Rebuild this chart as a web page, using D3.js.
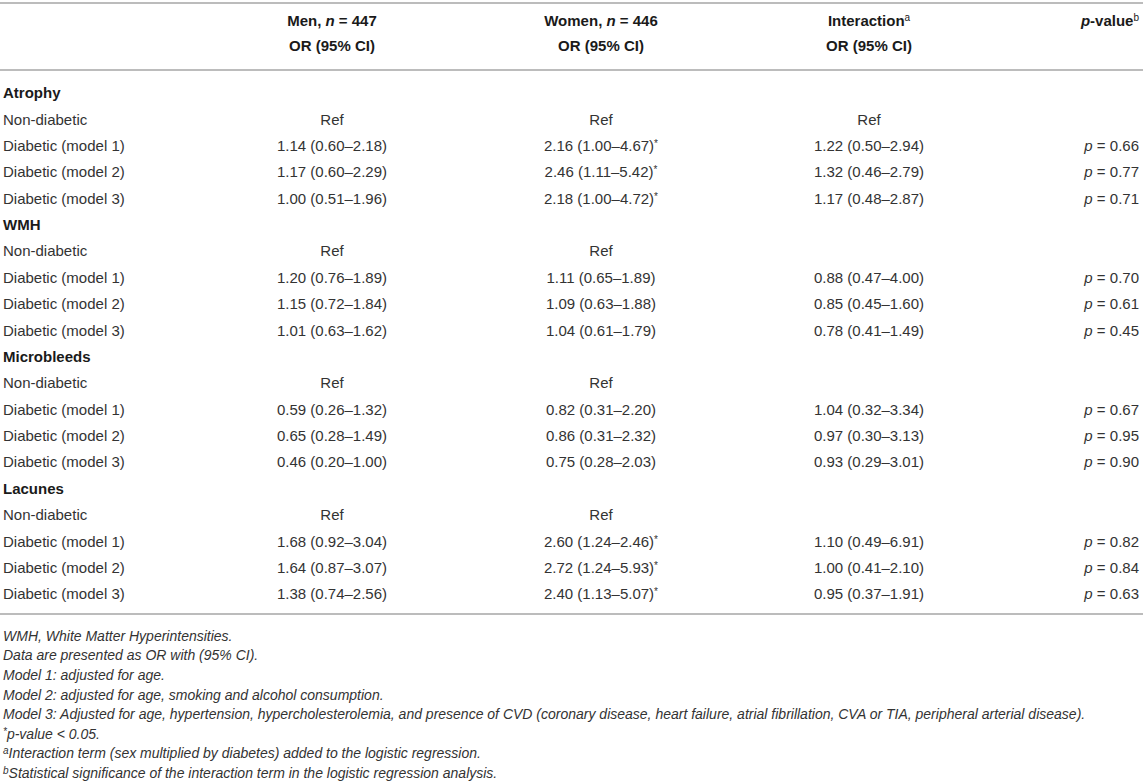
<!DOCTYPE html>
<html>
<head>
<meta charset="utf-8">
<script src="https://cdn.jsdelivr.net/npm/d3@7"></script>
<style>
  html, body { margin: 0; padding: 0; background: #fff; }
  svg { display: block; font-family: 'Liberation Sans', Arial, sans-serif; }
</style>
</head>
<body>
<svg id="tbl" width="1143" height="784"></svg>
<script>
// table content
const groups = ['Atrophy', 'WMH', 'Microbleeds', 'Lacunes'];
const rowLabels = ['Non-diabetic', 'Diabetic (model 1)', 'Diabetic (model 2)', 'Diabetic (model 3)'];

// [OR, lower, upper] for model 1..3, per group
const menOR = [
  [[1.14, 0.60, 2.18], [1.17, 0.60, 2.29], [1.00, 0.51, 1.96]],
  [[1.20, 0.76, 1.89], [1.15, 0.72, 1.84], [1.01, 0.63, 1.62]],
  [[0.59, 0.26, 1.32], [0.65, 0.28, 1.49], [0.46, 0.20, 1.00]],
  [[1.68, 0.92, 3.04], [1.64, 0.87, 3.07], [1.38, 0.74, 2.56]],
];
const womenOR = [
  [[2.16, 1.00, 4.67], [2.46, 1.11, 5.42], [2.18, 1.00, 4.72]],
  [[1.11, 0.65, 1.89], [1.09, 0.63, 1.88], [1.04, 0.61, 1.79]],
  [[0.82, 0.31, 2.20], [0.86, 0.31, 2.32], [0.75, 0.28, 2.03]],
  [[2.60, 1.24, 2.46], [2.72, 1.24, 5.93], [2.40, 1.13, 5.07]],
];
const womenSignificant = [true, false, false, true];
const interactionOR = [
  [[1.22, 0.50, 2.94], [1.32, 0.46, 2.79], [1.17, 0.48, 2.87]],
  [[0.88, 0.47, 4.00], [0.85, 0.45, 1.60], [0.78, 0.41, 1.49]],
  [[1.04, 0.32, 3.34], [0.97, 0.30, 3.13], [0.93, 0.29, 3.01]],
  [[1.10, 0.49, 6.91], [1.00, 0.41, 2.10], [0.95, 0.37, 1.91]],
];
const interactionRef = [true, false, false, false];
const pValues = [
  [0.66, 0.77, 0.71],
  [0.70, 0.61, 0.45],
  [0.67, 0.95, 0.90],
  [0.82, 0.84, 0.63],
];

const footnotes = [
  [{ t: 'WMH, White Matter Hyperintensities.' }],
  [{ t: 'Data are presented as OR with (95% CI).' }],
  [{ t: 'Model 1: adjusted for age.' }],
  [{ t: 'Model 2: adjusted for age, smoking and alcohol consumption.' }],
  [{ t: 'Model 3: Adjusted for age, hypertension, hypercholesterolemia, and presence of CVD (coronary disease, heart failure, atrial fibrillation, CVA or TIA, peripheral arterial disease).' }],
  [{ t: '*', sup: true }, { t: 'p-value < 0.05.' }],
  [{ t: 'a', sup: true }, { t: 'Interaction term (sex multiplied by diabetes) added to the logistic regression.' }],
  [{ t: 'b', sup: true }, { t: 'Statistical significance of the interaction term in the logistic regression analysis.' }],
];

const W = 1143;
const textColor = '#333';
const headColor = '#1a1a1a';
const ruleColor = '#bcbcbc';
const fmt = d3.format('.2f');
const orText = d => `${fmt(d[0])} (${fmt(d[1])}–${fmt(d[2])})`;

const svg = d3.select('#tbl');

// flatten body rows: group heading + 4 rows each
const bodyRows = [];
groups.forEach((g, gi) => {
  bodyRows.push({ kind: 'group', label: g });
  rowLabels.forEach((lab, ri) => {
    const r = { kind: 'row', label: lab, gi, ri };
    if (ri === 0) {
      r.men = 'Ref';
      r.women = 'Ref';
      r.inter = interactionRef[gi] ? 'Ref' : '';
      r.p = null;
    } else {
      r.men = orText(menOR[gi][ri - 1]);
      r.women = orText(womenOR[gi][ri - 1]);
      r.star = womenSignificant[gi];
      r.inter = orText(interactionOR[gi][ri - 1]);
      r.p = pValues[gi][ri - 1];
    }
    bodyRows.push(r);
  });
});

const y = d3.scalePoint().domain(d3.range(bodyRows.length)).range([93, 594]);
const yHead = d3.scalePoint().domain([0, 1]).range([21, 46]);
const yFoot = d3.scalePoint().domain(d3.range(footnotes.length)).range([636, 773]);

const colX = d3.scaleOrdinal()
  .domain(['label', 'men', 'women', 'inter', 'p'])
  .range([3, 332, 601, 869, 1139]);

// rules
svg.selectAll('line.rule')
  .data([3, 70, 614])
  .enter()
  .append('line')
  .attr('class', 'rule')
  .attr('x1', 0).attr('x2', W)
  .attr('y1', d => d).attr('y2', d => d)
  .attr('stroke', ruleColor)
  .attr('stroke-width', 2);

// header
const head = svg.append('g')
  .attr('font-size', 15)
  .attr('font-weight', 'bold')
  .attr('fill', headColor);

const headCell = (col, row, parts, anchor = 'middle') => {
  const t = head.append('text')
    .attr('x', colX(col))
    .attr('y', yHead(row))
    .attr('dy', '0.35em')
    .attr('text-anchor', anchor);
  parts.forEach((p) => {
    const s = t.append('tspan').text(p.t);
    if (p.it) s.attr('font-style', 'italic');
    if (p.sup) s.attr('font-size', 10).attr('font-weight', 'normal').attr('baseline-shift', '50%');
  });
};
headCell('men', 0, [{ t: 'Men, ' }, { t: 'n', it: true }, { t: ' = 447' }]);
headCell('women', 0, [{ t: 'Women, ' }, { t: 'n', it: true }, { t: ' = 446' }]);
headCell('inter', 0, [{ t: 'Interaction' }, { t: 'a', sup: true }]);
headCell('p', 0, [{ t: 'p', it: true }, { t: '-value' }, { t: 'b', sup: true }], 'end');
['men', 'women', 'inter'].forEach(c => headCell(c, 1, [{ t: 'OR (95% CI)' }]));

// body
const body = svg.append('g').attr('font-size', 15).attr('fill', textColor);
const rows = body.selectAll('g.row')
  .data(bodyRows)
  .enter()
  .append('g')
  .attr('class', 'row')
  .attr('transform', (d, i) => `translate(0,${y(i)})`);

rows.append('text')
  .attr('x', colX('label'))
  .attr('dy', '0.35em')
  .attr('font-weight', d => (d.kind === 'group' ? 'bold' : 'normal'))
  .attr('fill', d => (d.kind === 'group' ? headColor : textColor))
  .text(d => d.label);

const cells = rows.filter(d => d.kind === 'row');

cells.append('text')
  .attr('x', colX('men'))
  .attr('dy', '0.35em')
  .attr('text-anchor', 'middle')
  .text(d => d.men);

const wt = cells.append('text')
  .attr('x', colX('women'))
  .attr('dy', '0.35em')
  .attr('text-anchor', 'middle');
wt.append('tspan').text(d => d.women);
wt.filter(d => d.star)
  .append('tspan')
  .attr('font-size', 10)
  .attr('baseline-shift', '40%')
  .text('*');

cells.append('text')
  .attr('x', colX('inter'))
  .attr('dy', '0.35em')
  .attr('text-anchor', 'middle')
  .text(d => d.inter);

const pt = cells.filter(d => d.p !== null)
  .append('text')
  .attr('x', colX('p'))
  .attr('dy', '0.35em')
  .attr('text-anchor', 'end');
pt.append('tspan').attr('font-style', 'italic').text('p');
pt.append('tspan').text(d => ` = ${fmt(d.p)}`);

// footnotes
const foot = svg.append('g')
  .attr('font-size', 14)
  .attr('font-style', 'italic')
  .attr('fill', textColor);
footnotes.forEach((parts, i) => {
  const t = foot.append('text')
    .attr('x', colX('label'))
    .attr('y', yFoot(i))
    .attr('dy', '0.35em');
  parts.forEach((p) => {
    const s = t.append('tspan').text(p.t);
    if (p.sup) s.attr('font-size', 10).attr('baseline-shift', '40%');
  });
});
</script>
</body>
</html>
